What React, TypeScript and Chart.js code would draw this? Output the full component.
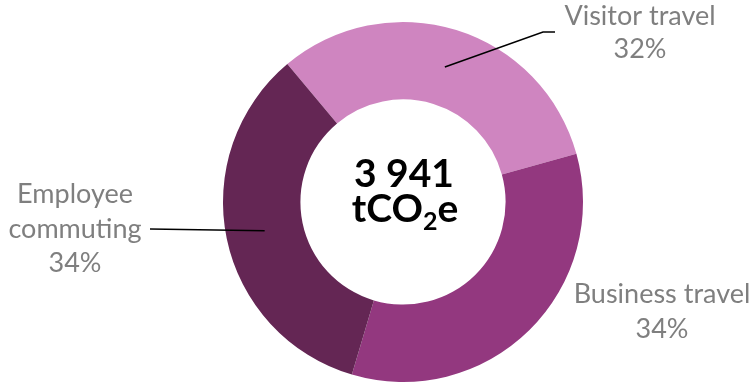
import React, { useEffect, useRef } from "react";
import { Chart, registerables } from "chart.js";

Chart.register(...registerables);

const categories = ["Visitor travel", "Business travel", "Employee commuting"];
const values = [1253, 1336, 1352];
const colors = ["#CF85C0", "#93387F", "#642654"];
const centerLine1 = "3 941";
const centerUnit = ["tCO", "2", "e"];

const FONT = "Lato, 'Open Sans', sans-serif";
const GRAY = "#7F7F7F";

const labelsPlugin = {
  id: "customLabels",
  afterDraw(chart: any) {
    const ctx = chart.ctx as CanvasRenderingContext2D;
    const meta = chart.getDatasetMeta(0);
    const total = values.reduce((a, b) => a + b, 0);
    const pct = values.map((v) => Math.round((v / total) * 100) + "%");
    ctx.save();

    // leader lines
    ctx.strokeStyle = "#000000";
    ctx.lineWidth = 1.5;
    const pV = meta.data[0].tooltipPosition();
    ctx.beginPath();
    ctx.moveTo(pV.x, pV.y);
    ctx.lineTo(543, 32);
    ctx.lineTo(555, 32);
    ctx.stroke();
    const pE = meta.data[2].tooltipPosition();
    ctx.beginPath();
    ctx.moveTo(pE.x, pE.y);
    ctx.lineTo(150, 229);
    ctx.stroke();

    // labels
    ctx.fillStyle = GRAY;
    ctx.textAlign = "center";
    ctx.textBaseline = "alphabetic";
    ctx.font = `27px ${FONT}`;
    ctx.fillText(categories[0], 640, 25);
    ctx.fillText(pct[0], 640, 58);
    ctx.fillText(categories[1], 662, 303);
    ctx.fillText(pct[1], 662, 338);
    ctx.fillText("Employee", 75, 203);
    ctx.fillText("commuting", 75, 238);
    ctx.fillText(pct[2], 75, 272);

    // center text
    const cx = (chart.chartArea.left + chart.chartArea.right) / 2;
    ctx.fillStyle = "#000000";
    const bigFont = `bold 39px ${FONT}`;
    const smallFont = `bold 25px ${FONT}`;
    ctx.font = bigFont;
    ctx.fillText(centerLine1, cx + 1, 187);

    const w1 = ctx.measureText(centerUnit[0]).width;
    const w3 = ctx.measureText(centerUnit[2]).width;
    ctx.font = smallFont;
    const w2 = ctx.measureText(centerUnit[1]).width;
    const totalW = w1 + w2 + w3;
    let x = cx + 2 - totalW / 2;
    ctx.textAlign = "left";
    ctx.font = bigFont;
    ctx.fillText(centerUnit[0], x, 222);
    x += w1;
    ctx.font = smallFont;
    ctx.fillText(centerUnit[1], x, 230);
    x += w2;
    ctx.font = bigFont;
    ctx.fillText(centerUnit[2], x, 222);

    ctx.restore();
  },
};

export default function App() {
  const ref = useRef<HTMLCanvasElement>(null);
  useEffect(() => {
    if (!ref.current) return;
    const chart = new Chart(ref.current, {
      type: "doughnut",
      data: {
        labels: categories,
        datasets: [
          {
            data: values,
            backgroundColor: colors,
            borderWidth: 0,
            hoverOffset: 0,
          },
        ],
      },
      options: {
        animation: false,
        responsive: false,
        devicePixelRatio: 1,
        rotation: -40,
        cutout: "57%",
        layout: { padding: { left: 223, right: 169, top: 22, bottom: 1 } },
        plugins: {
          legend: { display: false },
          tooltip: { enabled: false },
        },
      },
      plugins: [labelsPlugin],
    });
    return () => chart.destroy();
  }, []);
  return (
    <div style={{ position: "fixed", left: 0, top: 0, width: 752, height: 383, background: "#fff" }}>
      <canvas ref={ref} width={752} height={383} style={{ display: "block" }} />
    </div>
  );
}
